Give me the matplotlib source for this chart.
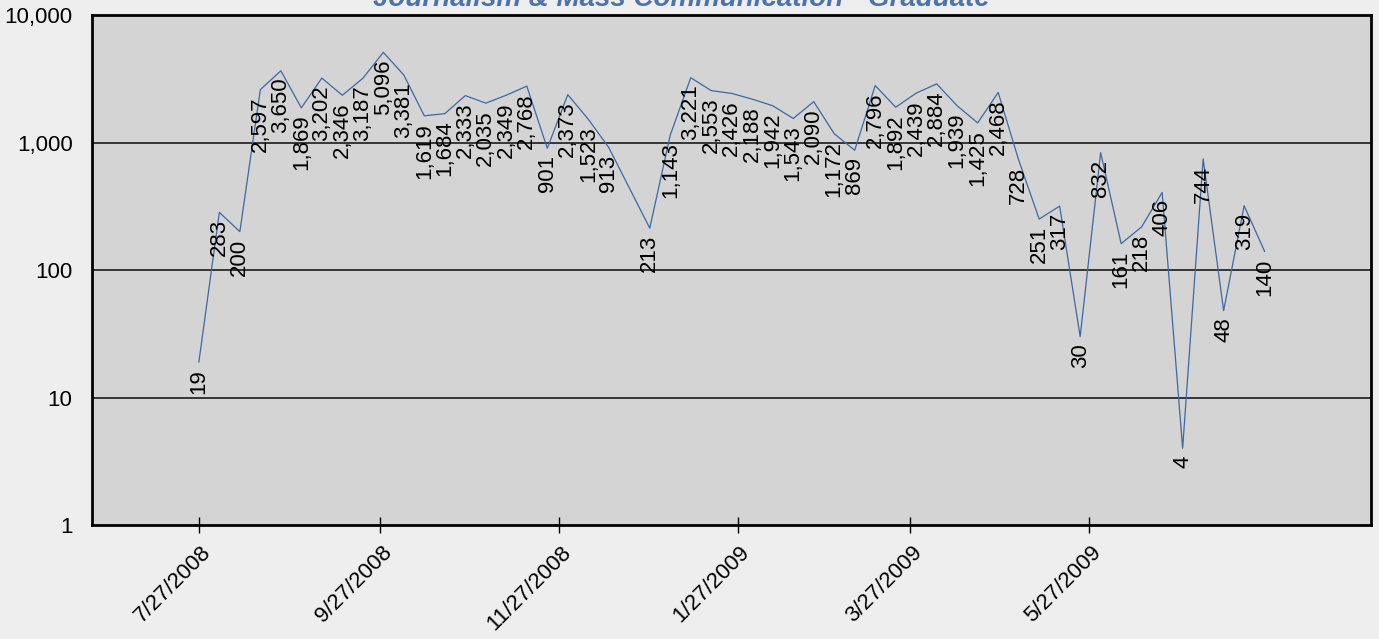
import datetime as dt
import matplotlib.pyplot as plt
import matplotlib.dates as mdates
import matplotlib.transforms as mtransforms
from matplotlib.ticker import FixedLocator, FuncFormatter

plt.rcParams['font.family'] = ['Liberation Sans', 'DejaVu Sans']

title = 'Journalism & Mass Communication - Graduate'

week_dates = [
    '2008-07-27', '2008-08-03', '2008-08-10', '2008-08-17', '2008-08-24',
    '2008-08-31', '2008-09-07', '2008-09-14', '2008-09-21', '2008-09-28',
    '2008-10-05', '2008-10-12', '2008-10-19', '2008-10-26', '2008-11-02',
    '2008-11-09', '2008-11-16', '2008-11-23', '2008-11-30', '2008-12-07',
    '2008-12-14', '2008-12-28', '2009-01-04', '2009-01-11', '2009-01-18',
    '2009-01-25', '2009-02-01', '2009-02-08', '2009-02-15', '2009-02-22',
    '2009-03-01', '2009-03-08', '2009-03-15', '2009-03-22', '2009-03-29',
    '2009-04-05', '2009-04-12', '2009-04-19', '2009-04-26', '2009-05-03',
    '2009-05-10', '2009-05-17', '2009-05-24', '2009-05-31', '2009-06-07',
    '2009-06-14', '2009-06-21', '2009-06-28', '2009-07-05', '2009-07-12',
    '2009-07-19', '2009-07-26',
]

counts = [
    19, 283, 200, 2597, 3650, 1869, 3202, 2346, 3187, 5096,
    3381, 1619, 1684, 2333, 2035, 2349, 2768, 901, 2373, 1523,
    913, 213, 1143, 3221, 2553, 2426, 2188, 1942, 1543, 2090,
    1172, 869, 2796, 1892, 2439, 2884, 1939, 1425, 2468, 728,
    251, 317, 30, 832, 161, 218, 406, 4, 744, 48,
    319, 140,
]

tick_dates = ['2008-07-27', '2008-09-27', '2008-11-27',
              '2009-01-27', '2009-03-27', '2009-05-27']
y_ticks = [1, 10, 100, 1000, 10000]

x = [dt.datetime.strptime(d, '%Y-%m-%d') for d in week_dates]
xt = [dt.datetime.strptime(d, '%Y-%m-%d') for d in tick_dates]

fig = plt.figure(figsize=(13.79, 6.39), dpi=100, facecolor='#eeeeee')
ax = fig.add_axes([92 / 1379, 1 - 525 / 639, 1279 / 1379, 510 / 639])
ax.set_facecolor('#d4d4d4')

ax.plot(x, counts, color='#3d68a3', lw=0.9)

for xi, v in zip(x, counts):
    ax.annotate('{:,}'.format(v), (xi, v), xytext=(0, -5),
                textcoords='offset points', rotation=90,
                ha='center', va='top', fontsize=16, color='black')

ax.set_yscale('log')
ax.set_ylim(1, 10000)
ax.yaxis.set_major_locator(FixedLocator(y_ticks))
ax.yaxis.set_minor_locator(FixedLocator([]))
ax.yaxis.set_major_formatter(FuncFormatter(lambda v, p: '{:,}'.format(int(round(v)))))
ax.tick_params(axis='y', length=0, pad=14, labelsize=16)
for yv in y_ticks[1:-1]:
    ax.axhline(yv, color='#1a1a1a', lw=1.2, zorder=1)

ax.set_xlim(dt.datetime(2008, 6, 20, 12), dt.datetime(2009, 8, 31, 8))
ax.set_xticks(xt)
ax.xaxis.set_major_formatter(FuncFormatter(
    lambda v, p: '{d.month}/{d.day}/{d.year}'.format(d=mdates.num2date(v))))
ax.tick_params(axis='x', direction='inout', length=11, width=1,
               labelsize=16, pad=12)
shift = mtransforms.ScaledTranslation(9 / 100, 0, fig.dpi_scale_trans)
for lab in ax.get_xticklabels():
    lab.set_rotation(45)
    lab.set_ha('right')
    lab.set_va('center')
    lab.set_rotation_mode('anchor')
    lab.set_transform(lab.get_transform() + shift)

for s in ax.spines.values():
    s.set_linewidth(2)
    s.set_color('black')

fig.text(0.494, 1 - 6 / 639, title, ha='center', va='baseline',
         fontsize=20, fontweight='bold', fontstyle='italic', color='#4f72a8')

plt.savefig('out.png', dpi=100, facecolor=fig.get_facecolor())
